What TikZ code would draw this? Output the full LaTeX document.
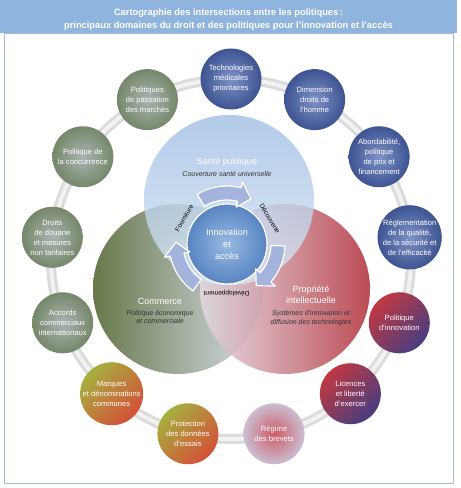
\documentclass[tikz,border=0pt]{standalone}
\usepackage{fontspec}
\setmainfont{Liberation Sans}
\definecolor{hdr}{RGB}{143,180,222}
\definecolor{frameblue}{RGB}{165,188,212}
\definecolor{blueIn}{RGB}{125,146,198}
\definecolor{blueOut}{RGB}{62,84,146}
\definecolor{redTop}{RGB}{192,56,66}
\definecolor{purpleBot}{RGB}{72,62,128}
\definecolor{pinkIn}{RGB}{206,92,104}
\definecolor{pinkOut}{RGB}{202,190,208}
\definecolor{olivTop}{RGB}{166,176,62}
\definecolor{orangeBot}{RGB}{212,80,56}
\definecolor{sageIn}{RGB}{170,180,178}
\definecolor{sageOut}{RGB}{118,135,106}
\definecolor{spTop}{RGB}{158,190,228}
\definecolor{spBot}{RGB}{218,230,243}
\definecolor{comL}{RGB}{104,120,74}
\definecolor{comM}{RGB}{158,166,140}
\definecolor{comR}{RGB}{216,223,236}
\definecolor{ipL}{RGB}{228,218,228}
\definecolor{ipM}{RGB}{212,150,160}
\definecolor{ipR}{RGB}{176,44,54}
\definecolor{coreIn}{RGB}{152,186,226}
\definecolor{coreOut}{RGB}{88,132,194}
\definecolor{cycfill}{RGB}{164,180,220}
\usetikzlibrary{positioning}
\begin{document}
\begin{tikzpicture}[x=1pt,y=1pt,>=latex]
\tikzset{
  sat/.style={circle,minimum size=61pt,inner sep=0pt,align=center,text=white,font=\fontsize{7.6}{10}\selectfont},
  satblue/.style={sat,inner color=blueIn,outer color=blueOut},
  satred/.style={sat,top color=redTop,bottom color=purpleBot,shading angle=45},
  satpink/.style={sat,inner color=pinkIn,outer color=pinkOut},
  satorange/.style={sat,top color=olivTop,bottom color=orangeBot,shading angle=45},
  satsage/.style={sat,inner color=sageIn,outer color=sageOut},
  venntitle/.style={align=center,text=white,inner sep=0pt,font=\fontsize{9}{11}\selectfont},
  vennsub/.style={align=center,text=black!80,inner sep=0pt,font=\fontsize{7}{8.5}\selectfont\itshape},
  cycarrow/.style={fill=cycfill,draw=white,line width=1.2pt,line join=round},
  cyclab/.style={inner sep=0pt,font=\fontsize{6.5}{7}\selectfont}
}
\useasboundingbox (0,0) rectangle (461,488);
% frame and heading
\draw[frameblue,line width=0.8pt] (4,5) rectangle (453,455);
\fill[hdr] (0,455) rectangle (457,488);
\node[align=center,text=white,font=\fontsize{9.3}{13}\selectfont\bfseries] (title) at (228.5,468.5)
  {Cartographie des intersections entre les politiques\,:\\principaux domaines du droit et des politiques pour l'innovation et l'accès};
% outer ring
\coordinate (ring) at (231,229);
\draw[gray!28,line width=10pt] (ring) circle[radius=180];
\draw[gray!10,line width=4pt] (ring) circle[radius=180];
% three domains
\coordinate (sp) at (229,288);
\coordinate (com) at (178,199);
\coordinate (ip) at (285,199);
\shade[left color=comL,middle color=comM,right color=comR] (com) circle[radius=85];
\shade[left color=ipL,middle color=ipM,right color=ipR,opacity=0.85] (ip) circle[radius=85];
\shade[top color=spTop,bottom color=spBot,opacity=0.8] (sp) circle[radius=85];
\node[venntitle] (sp title) at (227,326) {Santé publique};
\node[vennsub] (sp sub) at (227,314) {Couverture santé universelle};
\node[venntitle] (com title) at (160,187) {Commerce};
\node[vennsub] (com sub) at (160,171) {Politique économique\\et commerciale};
\node[venntitle] (ip title) at (311,193.5) {Propriété\\intellectuelle};
\node[vennsub] (ip sub) at (311,170) {Systèmes d'innovation et\\diffusion des technologies};
% innovation cycle
\coordinate (core) at (227,244);
\shade[inner color=coreIn,outer color=coreOut,draw=white,line width=1.2pt] (core) circle[radius=40];
\node[venntitle,font=\fontsize{9}{12}\selectfont] (core label) at (core) {Innovation\\et\\accès};
\foreach \a/\b in {121/62,-2/-55,234/178}{
  \pgfmathsetmacro\h{\b+14}
  \filldraw[cycarrow,shift={(core)}] (\a:58) arc[start angle=\a,end angle=\h,radius=58]
    -- (\h:64) -- (\b:51) -- (\h:38) -- (\h:44) arc[start angle=\h,end angle=\a,radius=44] -- cycle;
}
\node[cyclab,rotate=59] (fourniture) at ([shift={(149:50)}]core) {Fourniture};
\node[cyclab,rotate=-59] (decouverte) at ([shift={(31:50)}]core) {Découverte};
\node[cyclab,rotate=180] (developpement) at ([shift={(-90.5:49)}]core) {Développement};
% policy areas on the ring
\foreach \txt/\look [count=\i from 0] in {
  {Technologies\\médicales\\prioritaires}/satblue,
  {Dimension\\droits de\\l'homme}/satblue,
  {Abordabilité,\\politique\\de prix et\\financement}/satblue,
  {Réglementation\\de la qualité,\\de la sécurité et\\de l'efficacité}/satblue,
  {Politique\\d'innovation}/satred,
  {Licences\\et liberté\\d'exercer}/satred,
  {Régime\\des brevets}/satpink,
  {Protection\\des données\\d'essais}/satorange,
  {Marques\\et dénominations\\communes}/satorange,
  {Accords\\commerciaux\\internationaux}/satsage,
  {Droits\\de douane\\et mesures\\non tarifaires}/satsage,
  {Politique de\\la concurrence}/satsage,
  {Politiques\\de passation\\des marchés}/satsage}
  \node[\look] (pol\i) at ([shift={({90-\i*360/13}:180)}]ring) {\txt};
\end{tikzpicture}
\end{document}
